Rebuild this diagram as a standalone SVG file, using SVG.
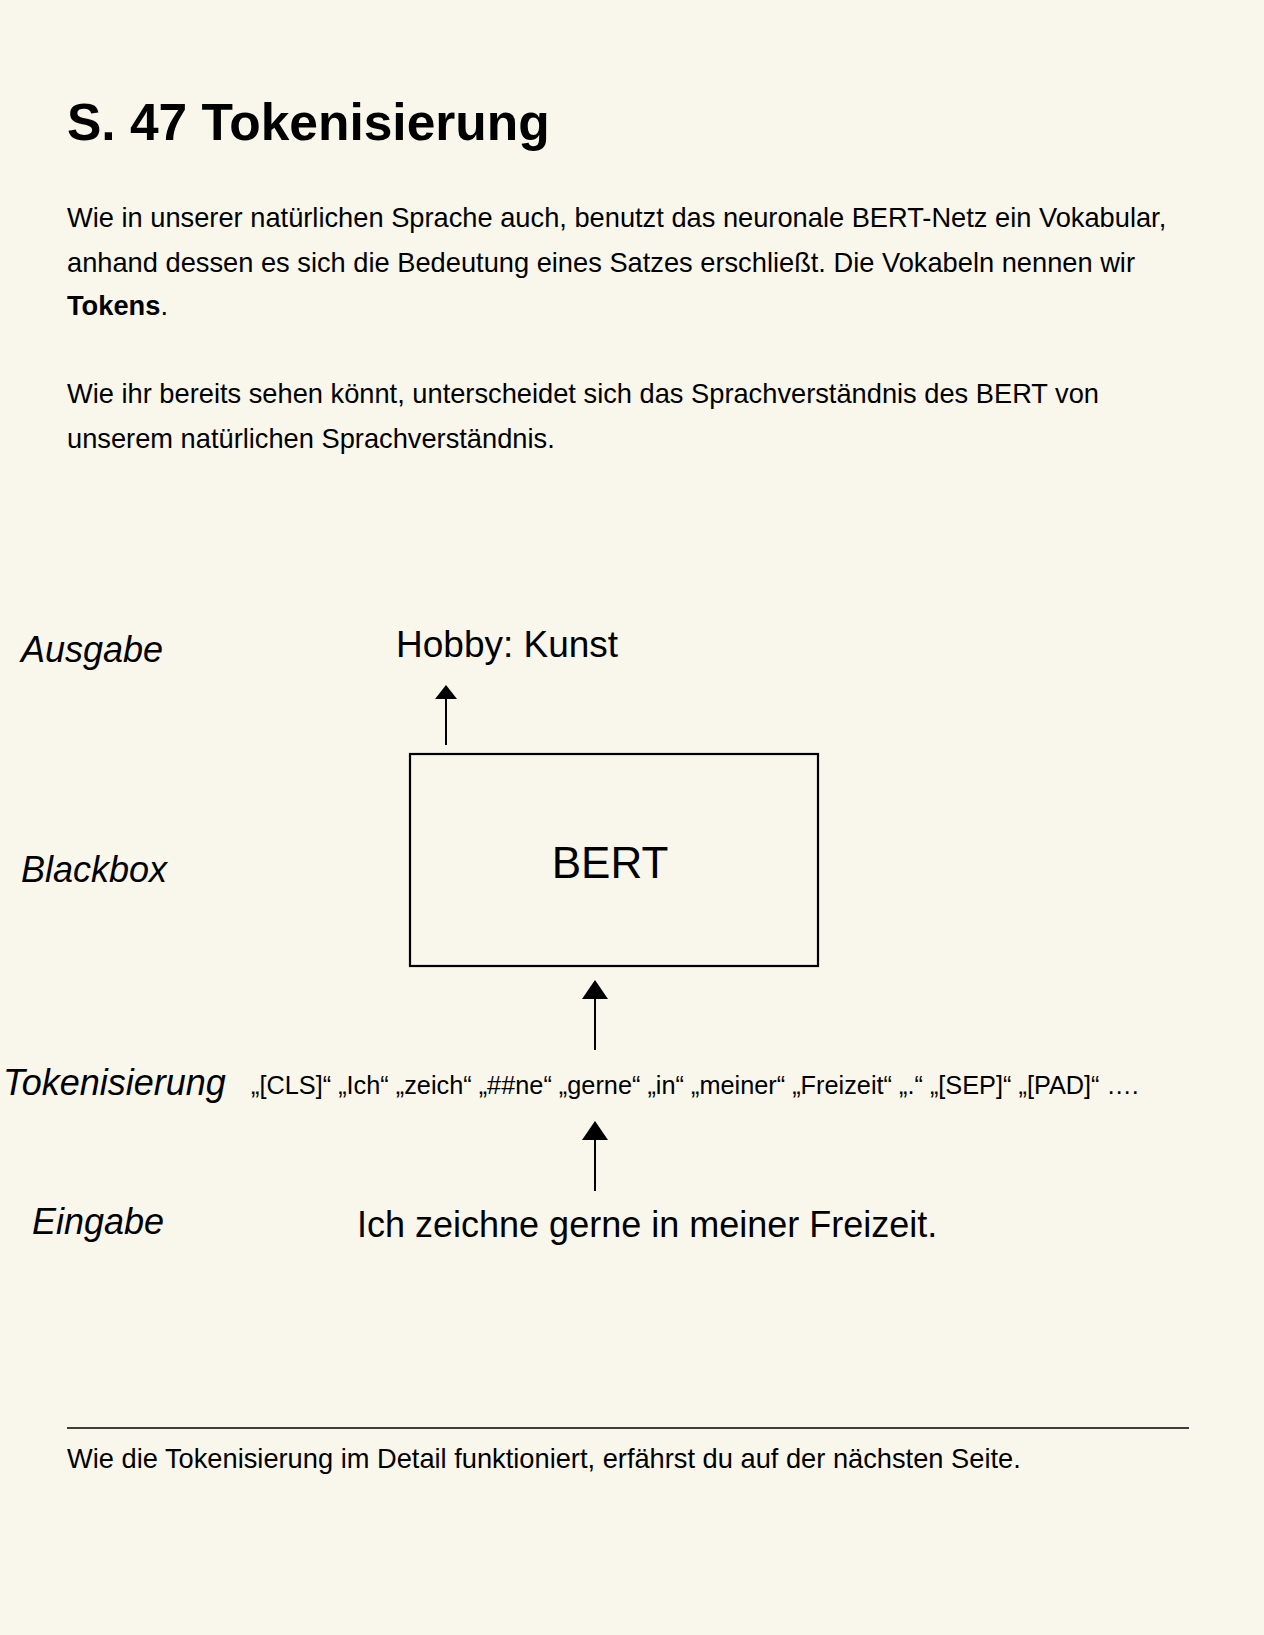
<svg xmlns="http://www.w3.org/2000/svg" width="1264" height="1635" viewBox="0 0 1264 1635">
<style>
text{font-family:"Liberation Sans",Arial,Helvetica,sans-serif;fill:#000}
.title{font-size:51.5px;font-weight:bold}
.body{font-size:27.25px}
.lab{font-size:36px;font-style:italic}
.big{font-size:36px}
.tok{font-size:25.3px}
.conn line{stroke:#000;stroke-width:2}
.conn polygon{fill:#000}
.box{fill:none;stroke:#000;stroke-width:2.2}
</style>
<rect width="1264" height="1635" fill="#f9f7eb"/>
<g id="header">
<text class="title" x="67" y="140">S. 47 Tokenisierung</text>
<text class="body" x="67" y="227">Wie in unserer natürlichen Sprache auch, benutzt das neuronale BERT-Netz ein Vokabular,</text>
<text class="body" x="67" y="272">anhand dessen es sich die Bedeutung eines Satzes erschließt. Die Vokabeln nennen wir</text>
<text class="body" x="67" y="315"><tspan font-weight="bold">Tokens</tspan>.</text>
<text class="body" x="67" y="403">Wie ihr bereits sehen könnt, unterscheidet sich das Sprachverständnis des BERT von</text>
<text class="body" x="67" y="448">unserem natürlichen Sprachverständnis.</text>
</g>
<g id="labels">
<text class="lab" x="21" y="662">Ausgabe</text>
<text class="lab" x="21" y="882">Blackbox</text>
<text class="lab" x="3" y="1095">Tokenisierung</text>
<text class="lab" x="32" y="1234">Eingabe</text>
</g>
<g id="output">
<text x="396" y="657" font-size="37">Hobby: Kunst</text>
</g>
<g id="bert">
<rect class="box" x="410" y="754" width="408" height="212"/>
<text x="610" y="878" font-size="44" text-anchor="middle">BERT</text>
</g>
<g id="tokens">
<text class="tok" x="251" y="1094">„[CLS]“ „Ich“ „zeich“ „##ne“ „gerne“ „in“ „meiner“ „Freizeit“ „.“ „[SEP]“ „[PAD]“ ….</text>
</g>
<g id="input">
<text class="big" x="357" y="1237">Ich zeichne gerne in meiner Freizeit.</text>
</g>
<g id="connectors" class="conn">
<line x1="446" y1="745" x2="446" y2="697"/>
<polygon points="435,699 457,699 446,685"/>
<line x1="595" y1="1050" x2="595" y2="996"/>
<polygon points="582,999 608,999 595,980"/>
<line x1="595" y1="1191" x2="595" y2="1137"/>
<polygon points="582,1140 608,1140 595,1121"/>
</g>
<g id="footer">
<line x1="67" y1="1428" x2="1189" y2="1428" stroke="#000" stroke-width="1.5"/>
<text class="body" x="67" y="1468">Wie die Tokenisierung im Detail funktioniert, erfährst du auf der nächsten Seite.</text>
</g>
</svg>
